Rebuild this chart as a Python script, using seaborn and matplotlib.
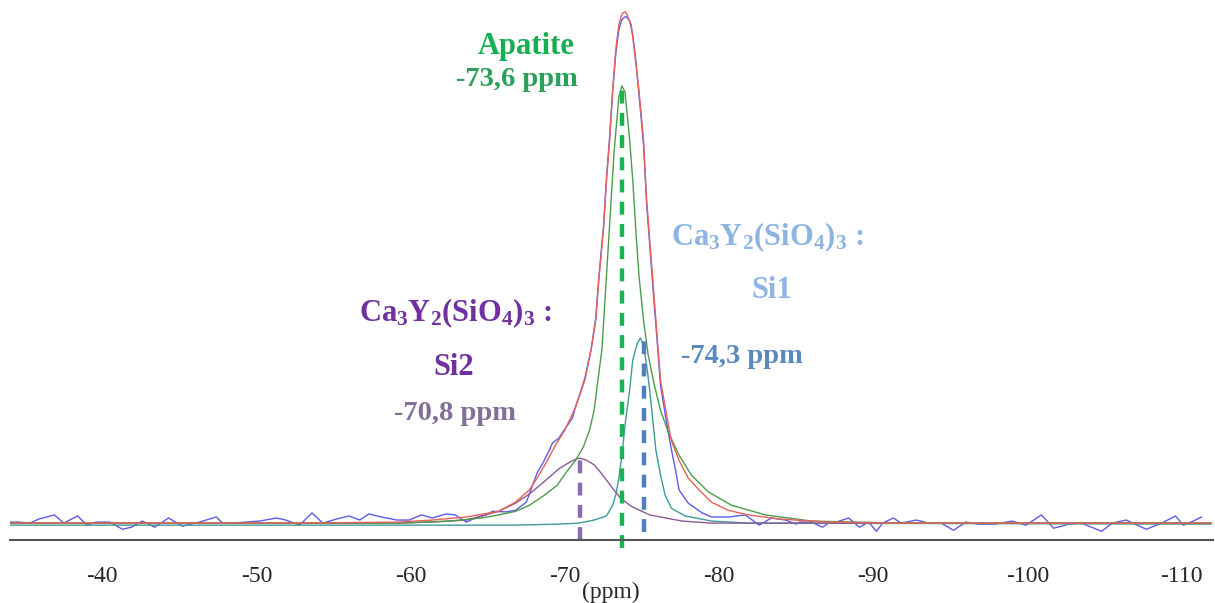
import numpy as np
import matplotlib
matplotlib.use("Agg")
import matplotlib.pyplot as plt
import seaborn as sns

# 29Si MAS NMR spectrum, chemical shift in ppm, intensity in % of max
exp_ppm = [-34.0, -34.6, -35.3, -35.9, -36.9, -37.5, -38.4, -39.0, -39.6, -40.5,
           -41.3, -41.9, -42.6, -43.4, -44.3, -45.2, -46.3, -47.4, -47.8, -48.4,
           -49.3, -50.2, -51.3, -51.9, -52.8, -53.6, -54.3, -55.2, -56.0, -56.7,
           -57.3, -58.1, -59.1, -59.9, -60.7, -61.4, -62.3, -62.9, -63.6, -64.2,
           -64.9, -65.3, -66.2, -66.8, -67.5, -68.2, -68.6, -69.0, -69.2, -69.6,
           -70.0, -70.5, -70.7, -71.0, -71.3, -71.7, -72.0, -72.2, -72.5, -72.7,
           -72.9, -73.1, -73.3, -73.5, -73.7, -73.9, -74.0, -74.2, -74.4, -74.6,
           -74.8, -75.1, -75.3, -75.6, -75.8, -76.0, -76.2, -76.6, -76.9, -77.2,
           -77.4, -78.0, -78.9, -79.5, -80.6, -81.7, -82.6, -83.4, -84.3, -85.0,
           -85.2, -86.0, -86.7, -87.1, -87.6, -88.4, -89.1, -89.7, -90.2, -90.6,
           -91.3, -91.8, -92.8, -93.6, -94.4, -95.2, -96.0, -96.8, -97.9, -99.0,
           -99.9, -100.9, -101.7, -102.7, -103.5, -104.8, -105.5, -106.4, -107.7,
           -108.7, -109.6, -110.1, -110.6, -111.3]
exp_int = [0.2, 0.2, 0.0, 0.8, 1.6, 0.0, 1.4, -0.4, 0.2, 0.2,
           -1.2, -0.8, 0.4, -0.8, 1.0, -0.6, 0.2, 1.2, 0.0, 0.0,
           0.2, 0.4, 1.0, 0.6, -0.4, 2.0, 0.0, 0.8, 1.4, 0.6,
           1.8, 1.2, 0.6, 0.6, 1.6, 1.0, 1.8, 1.6, 0.2, 1.0,
           1.6, 2.3, 2.2, 2.5, 4.1, 9.8, 11.9, 14.3, 15.7, 16.6,
           18.4, 20.6, 22.9, 25.5, 28.4, 34.0, 40.0, 48.0, 57.8, 67.5,
           75.4, 84.5, 91.8, 96.5, 98.5, 99.0, 99.0, 98.2, 95.5, 90.5,
           84.0, 74.0, 62.5, 50.5, 42.5, 35.0, 27.0, 19.5, 14.5, 10.0,
           6.5, 3.9, 2.0, 1.2, 1.2, 1.6, -0.4, 1.0, 0.6, -0.2,
           0.2, 0.2, -0.8, 0.0, 0.2, 1.0, -0.8, 0.2, -1.6, 0.0,
           1.0, 0.0, 0.6, 0.0, 0.0, -1.4, 0.2, -0.2, -0.2, 0.4,
           -0.4, 1.6, -1.0, -0.2, 0.0, -1.6, 0.0, 0.6, -1.2,
           0.0, 1.4, -0.4, 0.2, 1.2]

fit_ppm = [-34.0, -52.8, -59.2, -61.4, -63.6, -65.7, -66.8, -67.7, -68.2, -68.8,
           -69.4, -70.0, -70.7, -71.3, -71.7, -72.0, -72.2, -72.5, -72.7, -72.9,
           -73.1, -73.3, -73.5, -73.7, -73.9, -74.0, -74.3, -74.5, -74.8, -75.1,
           -75.3, -75.6, -75.8, -76.0, -76.2, -76.6, -76.9, -77.4, -78.0, -78.7,
           -79.5, -80.6, -81.9, -83.9, -87.1, -91.7, -111.9]
fit_int = [0.0, 0.0, 0.2, 0.6, 1.2, 2.3, 4.1, 6.5, 8.8, 11.9,
           15.3, 18.2, 22.7, 28.0, 33.9, 39.7, 47.6, 57.3, 67.1, 75.0,
           84.7, 92.6, 97.5, 99.6, 100.0, 99.6, 97.5, 92.6, 84.7, 75.0,
           63.2, 51.5, 43.6, 35.8, 28.0, 21.1, 16.2, 12.3, 8.8, 6.5,
           4.1, 2.5, 1.6, 0.8, 0.2, 0.0, 0.0]

apatite_ppm = [-34.0, -52.8, -59.2, -62.5, -64.6, -65.7, -66.8, -67.7, -68.6, -69.5,
               -70.1, -70.7, -71.2, -71.6, -71.9, -72.1, -72.4, -72.6, -72.8, -73.0,
               -73.2, -73.4, -73.5, -73.7, -73.9, -74.0, -74.2, -74.4, -74.6, -74.8,
               -75.1, -75.4, -75.8, -76.2, -76.7, -77.4, -78.2, -79.3, -80.8, -83.0,
               -86.0, -91.7, -111.9]
apatite_int = [0.0, 0.0, 0.0, 0.4, 1.0, 1.6, 2.3, 3.5, 5.3, 7.4,
               10.0, 12.3, 14.9, 18.2, 22.1, 27.0, 33.9, 43.6, 53.4, 63.2,
               73.0, 79.8, 83.4, 85.5, 84.3, 81.2, 75.0, 67.1, 57.3, 48.5,
               39.7, 32.9, 27.0, 22.1, 17.8, 13.3, 9.4, 6.1, 3.5, 1.6,
               0.4, 0.0, 0.0]

si2_ppm = [-34.0, -59.2, -61.4, -63.6, -65.7, -66.8, -67.7, -68.3, -69.0, -69.6,
           -70.3, -70.7, -71.0, -71.4, -71.9, -72.4, -73.1, -73.6, -74.3, -75.5,
           -77.6, -79.5, -111.9]
si2_int = [0.0, 0.0, 0.2, 0.6, 2.3, 3.9, 5.7, 7.2, 9.0, 10.6,
           11.9, 12.5, 12.7, 12.3, 11.4, 9.6, 6.8, 4.9, 3.3, 1.6,
           0.4, 0.0, 0.0]

si1_ppm = [-34.0, -59.2, -66.6, -69.6, -70.9, -71.9, -72.7, -73.1, -73.3, -73.5,
           -73.7, -73.9, -74.2, -74.4, -74.7, -74.9, -75.1, -75.3, -75.5, -75.7,
           -75.9, -76.2, -76.5, -76.9, -77.8, -79.5, -81.9, -111.9]
si1_int = [-0.4, -0.4, -0.4, -0.2, 0.0, 0.6, 1.4, 3.5, 5.5, 8.8,
           13.3, 19.2, 26.0, 31.9, 35.2, 36.2, 34.8, 30.9, 26.0, 20.2,
           14.3, 9.4, 5.5, 2.9, 1.4, 0.4, 0.0, -0.2]

# peak markers: position, top of the dashed line
marker_ppm = [-73.7, -71.0, -75.1]
marker_top = [85.5, 12.7, 36.2]
marker_bottom = [-4.9, -3.3, -1.8]
marker_colors = ["#19b352", "#8a6cb0", "#4f80bd"]

tick_vals = [-40, -50, -60, -70, -80, -90, -100, -110]
tick_labels = ["-40", "-50", "-60", "-70", "-80", "-90", "-100", "-110"]

sns.set_style("white")
plt.rcParams["font.family"] = ["Liberation Serif", "DejaVu Serif"]
plt.rcParams["mathtext.fontset"] = "custom"
plt.rcParams["mathtext.rm"] = "Liberation Serif:bold"
plt.rcParams["mathtext.bf"] = "Liberation Serif:bold"
plt.rcParams["mathtext.it"] = "Liberation Serif:bold:italic"

fig = plt.figure(figsize=(12.15, 6.03), dpi=100)
ax = fig.add_axes([0.008, 0.1045, 0.99, 0.8955])

lw = 1.0
sns.lineplot(x=exp_ppm, y=exp_int, ax=ax, color="#5c5ce8", lw=lw, estimator=None)
sns.lineplot(x=si1_ppm, y=si1_int, ax=ax, color="#3f9a98", lw=lw, estimator=None)
sns.lineplot(x=si2_ppm, y=si2_int, ax=ax, color="#8c5a98", lw=lw, estimator=None)
sns.lineplot(x=apatite_ppm, y=apatite_int, ax=ax, color="#4c9c4c", lw=lw, estimator=None)
sns.lineplot(x=fit_ppm, y=fit_int, ax=ax, color="#e8605a", lw=lw, estimator=None)

for p, top, bot, c in zip(marker_ppm, marker_top, marker_bottom, marker_colors):
    ax.plot([p, p], [bot, top], color=c, lw=3.2, ls=(0, (2.9, 2.1)),
            clip_on=False, solid_capstyle="butt")

ax.set_xlim(-34, -112)
ax.set_ylim(-3.3, 102.3)
ax.set_xticks(tick_vals)
ax.set_xticklabels(tick_labels, fontsize=17)
ax.set_yticks([])
ax.tick_params(axis="x", direction="in", length=6, width=1.3, color="#555555", pad=19)
ax.set_xlabel("(ppm)", fontsize=17, labelpad=-4)
sns.despine(ax=ax, left=True, top=True, right=True)
ax.spines["bottom"].set_color("#555555")
ax.spines["bottom"].set_linewidth(1.5)
ax.patch.set_alpha(0)

bold = dict(ha="center", va="center", fontweight="bold")
ax.text(-67.5, 93.2, "Apatite", color="#12b050", fontsize=22, **bold)
ax.text(-66.9, 86.7, "-73,6 ppm", color="#2aa05a", fontsize=20.5, **bold)
ax.text(-62.9, 41.1, r"$\mathrm{Ca_3Y_2(SiO_4)_3}$ :", color="#7030a0", fontsize=22, **bold)
ax.text(-62.8, 30.5, "Si2", color="#7030a0", fontsize=22, **bold)
ax.text(-62.9, 21.5, "-70,8 ppm", color="#82709a", fontsize=20.5, **bold)
ax.text(-83.1, 56.0, r"$\mathrm{Ca_3Y_2(SiO_4)_3}$ :", color="#8db4e2", fontsize=22, **bold)
ax.text(-83.4, 45.4, "Si1", color="#8db4e2", fontsize=22, **bold)
ax.text(-81.5, 32.5, "-74,3 ppm", color="#5a88bf", fontsize=20.5, **bold)

fig.savefig("out.png", dpi=100)
